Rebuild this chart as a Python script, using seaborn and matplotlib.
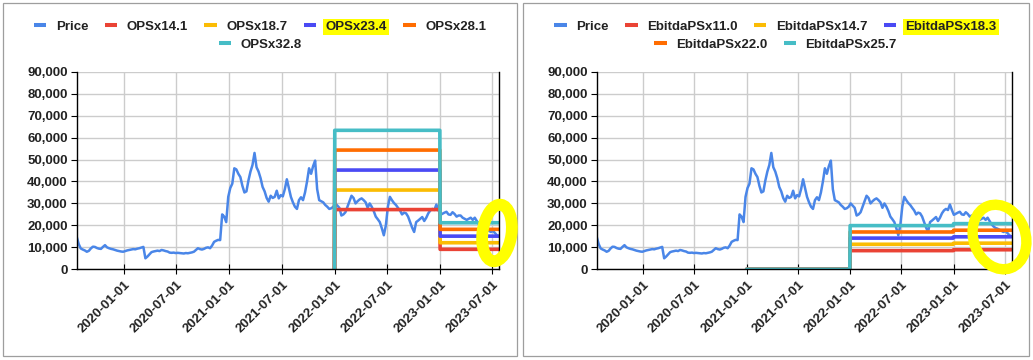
import pandas as pd
import matplotlib
matplotlib.use("Agg")
import matplotlib.pyplot as plt
from matplotlib.lines import Line2D
from matplotlib.patches import Ellipse, Rectangle
from matplotlib.ticker import StrMethodFormatter
import seaborn as sns

# weekly price, first value on 2019-07-22
price_start = "2019-07-22"
price = [
    14800, 11500, 9500, 9000, 8600, 8000, 8400, 9500, 10300, 10200, 9700, 9400, 9300,
    10200, 11000, 10000, 9600, 9300, 9100, 8800, 8500, 8300, 8100, 8000, 8300, 8600,
    8800, 9000, 9200, 9100, 9400, 9600, 9900, 10200, 5000, 5800, 6800, 7800, 8100,
    8300, 8500, 8300, 8800, 8600, 8300, 8100, 7600, 7500, 7600, 7400, 7500, 7400,
    7300, 7200, 7400, 7300, 7500, 7700, 8000, 8800, 9600, 9200, 9000, 9300, 9800,
    10000, 9600, 10800, 12500, 13000, 13400, 13300, 25000, 24000, 21500, 33000, 37000,
    39000, 46000, 45500, 43500, 42000, 38000, 35000, 35500, 40500, 44500, 47500, 53000,
    46500, 44500, 41500, 37500, 35500, 32500, 30800, 33500, 32500, 33000, 35800, 32300,
    33800, 33200, 36500, 41000, 37000, 33000, 30500, 28500, 27500, 31500, 32800, 31500,
    35000, 40000, 46000, 43500, 47000, 49500, 36500, 31500, 31000, 30500, 29300, 28500,
    27500, 27800, 28500, 30000, 29000, 28000, 24500, 25000, 26000, 28500, 31000, 33500,
    32500, 30000, 31000, 31800, 32300, 31500, 30500, 28000, 30000, 28500, 26500, 24000,
    22800, 21500, 18700, 15500, 20000, 28500, 33000, 31500, 30200, 29300, 28000, 26800,
    25000, 25800, 25500, 24000, 21500, 19000, 17000, 21500, 22200, 23000, 23800, 22000,
    23500, 25500, 26800, 27500, 27000, 29500, 27000, 24800, 25300, 25800, 26200, 25000,
    24800, 26000, 25200, 24000, 24500, 24500, 23500, 23000, 22500, 23000, 23500, 22500,
    23500, 22000, 20500, 19500, 18800, 18500, 18000, 17500, 17000, 17500, 16500, 15500,
    15000,
]

left_labels = ["OPSx14.1", "OPSx18.7", "OPSx23.4", "OPSx28.1", "OPSx32.8"]
left_2022 = [27200, 36100, 45200, 54300, 63300]
left_2023 = [9100, 12100, 15100, 18200, 21200]
left_zero_from = "2021-12-31"

right_labels = ["EbitdaPSx11.0", "EbitdaPSx14.7", "EbitdaPSx18.3", "EbitdaPSx22.0", "EbitdaPSx25.7"]
right_2022 = [8500, 11400, 14200, 17000, 19900]
right_2023 = [8900, 11900, 14800, 17800, 20800]
right_zero_from = "2021-01-01"

price_color = "#4a86e8"
line_colors = ["#ea4335", "#fbbc04", "#4a4af4", "#ff6d01", "#46bdc6"]

sns.set_theme(style="white")
plt.rcParams["font.family"] = ["Liberation Sans", "DejaVu Sans"]
plt.rcParams["font.weight"] = "bold"
text_color = "#222222"

price_df = pd.DataFrame({
    "date": pd.date_range(price_start, periods=len(price), freq="7D"),
    "price": price,
})
end_date = price_df["date"].iloc[-1]


def band_frame(labels, v22, v23, zero_from):
    rows = []
    for lab, a, b in zip(labels, v22, v23):
        pts = [(zero_from, 0)]
        if pd.Timestamp(zero_from) < pd.Timestamp("2021-12-31"):
            pts.append(("2021-12-31", 0))
        pts += [("2022-01-01", a), ("2022-12-31", a), ("2023-01-01", b), (end_date, b)]
        for d, v in pts:
            rows.append({"date": pd.Timestamp(d), "value": v, "series": lab})
    return pd.DataFrame(rows)


fig = plt.figure(figsize=(10.33, 3.6), dpi=100)
ax_l = fig.add_axes([76.7 / 1033, 1 - 269.3 / 360, 422.6 / 1033, 197.6 / 360])
ax_r = fig.add_axes([596.7 / 1033, 1 - 269.3 / 360, 415 / 1033, 197.6 / 360])

panels = [
    (ax_l, left_labels, left_2022, left_2023, left_zero_from),
    (ax_r, right_labels, right_2022, right_2023, right_zero_from),
]
ticks = pd.date_range("2020-01-01", "2023-07-01", freq="6MS")

for ax, labels, v22, v23, zero_from in panels:
    sns.lineplot(data=price_df, x="date", y="price", color=price_color,
                 lw=1.8, ax=ax, zorder=2)
    bands = band_frame(labels, v22, v23, zero_from)
    sns.lineplot(data=bands, x="date", y="value", hue="series", hue_order=labels,
                 palette=line_colors, estimator=None, sort=False, lw=2.6,
                 legend=False, ax=ax, zorder=3)

    ax.set_xlim(pd.Timestamp("2019-07-22"), pd.Timestamp("2023-07-25"))
    ax.set_ylim(0, 90000)
    ax.set_yticks(range(0, 90001, 10000))
    ax.yaxis.set_major_formatter(StrMethodFormatter("{x:,.0f}"))
    ax.set_xticks(ticks.to_pydatetime())
    ax.set_xticklabels([t.strftime("%Y-%m-%d") for t in ticks], rotation=45,
                       ha="right", va="top", rotation_mode="anchor")
    ax.set_xlabel("")
    ax.set_ylabel("")
    ax.grid(True, color="#cccccc", lw=1)
    ax.set_axisbelow(True)
    ax.spines["top"].set_visible(False)
    for s in ["left", "bottom", "right"]:
        ax.spines[s].set_color("black")
        ax.spines[s].set_linewidth(1)
        ax.spines[s].set_zorder(4)
    ax.tick_params(axis="y", direction="out", length=4.5, width=0.8, color="black",
                   labelsize=9.5, labelcolor=text_color, pad=2, left=True)
    ax.tick_params(axis="x", direction="inout", length=7, width=0.8, color="black",
                   labelsize=9.5, labelcolor=text_color, pad=3, bottom=True)


def add_legend(labels, colors, highlight, cx, split):
    names = ["Price"] + labels
    cols = [price_color] + colors
    handles = [Line2D([], [], color=c, lw=2.9, solid_capstyle="butt") for c in cols]
    for rows, y in [(slice(0, split), 1 - 27 / 360), (slice(split, None), 1 - 45 / 360)]:
        h = handles[rows]
        leg = fig.legend(h, names[rows], loc="center", bbox_to_anchor=(cx, y),
                         ncol=len(h), frameon=False, handlelength=0.95,
                         handletextpad=0.7, columnspacing=1.25, borderpad=0,
                         prop={"size": 9.5, "weight": "bold"})
        for t in leg.get_texts():
            t.set_color(text_color)
            if t.get_text() == highlight:
                t.set_bbox(dict(facecolor="#ffff00", edgecolor="none", pad=1.5))


add_legend(left_labels, line_colors, "OPSx23.4", 260 / 1033, 5)
add_legend(right_labels, line_colors, "EbitdaPSx18.3", 775.5 / 1033, 4)

# panel borders
for x0, w in [(0.025, 5.145), (5.225, 5.06)]:
    fig.add_artist(Rectangle((x0, 0.04), w, 3.535, transform=fig.dpi_scale_trans,
                             fill=False, edgecolor="#9e9e9e", lw=0.9))

# hand-drawn yellow circles
fig.add_artist(Ellipse((4.97, 1.27), 0.29, 0.57, angle=-8, transform=fig.dpi_scale_trans,
                       fill=False, edgecolor="#ffff00", lw=8.5, zorder=10))
fig.add_artist(Ellipse((9.995, 1.23), 0.52, 0.66, angle=20, transform=fig.dpi_scale_trans,
                       fill=False, edgecolor="#ffff00", lw=7.5, zorder=10))

fig.savefig("out.png", dpi=100)
